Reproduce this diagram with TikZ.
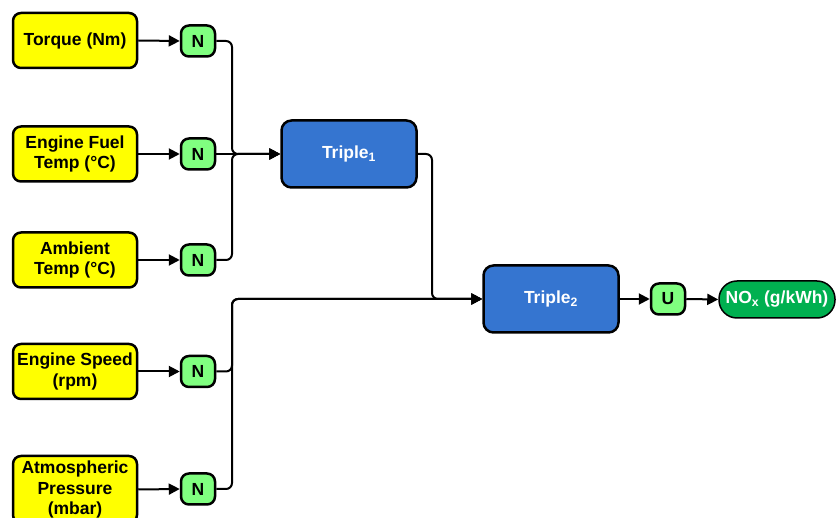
\documentclass[tikz,border=0pt]{standalone}
\usepackage{fontspec}
\setmainfont{Liberation Sans}
\usetikzlibrary{arrows.meta}
\definecolor{inyellow}{HTML}{FFFF00}
\definecolor{normgreen}{HTML}{80FF80}
\definecolor{tripleblue}{HTML}{3575D0}
\definecolor{outgreen}{HTML}{00B050}
\tikzset{
  inbox/.style={draw=black, line width=2.5pt, fill=inyellow, rounded corners=8pt,
    minimum width=124pt, minimum height=55pt, align=center, inner sep=1pt},
  normbox/.style={draw=black, line width=2.5pt, fill=normgreen, rounded corners=8pt,
    minimum width=34pt, minimum height=31pt, inner sep=1pt},
  triplebox/.style={draw=black, line width=2.5pt, fill=tripleblue, rounded corners=10pt,
    minimum width=135pt, minimum height=67pt, text=white},
  outbox/.style={draw=black, line width=1.5pt, fill=outgreen, rounded corners=18pt,
    minimum width=116pt, minimum height=37pt, text=white, inner sep=1pt},
  link/.style={line width=2pt, rounded corners=6pt, -{Triangle[length=11pt,width=11pt]}}
}
\begin{document}
\begin{tikzpicture}[x=1pt, y=-1pt,
  every node/.style={font=\fontsize{17.5}{20.5}\selectfont\bfseries}]
  \useasboundingbox (0,0) rectangle (836,518);
  %%%%% inputs %%%%%
  \node[inbox] (torque) at (75,40.5) {Torque (Nm)};
  \node[inbox] (fuel) at (75,154) {Engine Fuel\\Temp (°C)};
  \node[inbox] (ambient) at (75,260) {Ambient\\Temp (°C)};
  \node[inbox] (speed) at (75,371.5) {Engine Speed\\(rpm)};
  \node[inbox, minimum height=67pt] (pressure) at (75,489.5) {Atmospheric\\Pressure\\(mbar)};
  %%%%% normalisers %%%%%
  \node[normbox] (n1) at (198,41) {N};
  \node[normbox] (n2) at (198,154) {N};
  \node[normbox] (n3) at (198,260) {N};
  \node[normbox] (n4) at (198,371.5) {N};
  \node[normbox] (n5) at (198,489) {N};
  %%%%% triples and output %%%%%
  \node[triplebox] (triple1) at (349,154) {Triple\textsubscript{1}};
  \node[triplebox] (triple2) at (551,299) {Triple\textsubscript{2}};
  \node[normbox] (u) at (668,299) {U};
  \node[outbox] (nox) at (777,299.5) {NO\textsubscript{x} (g/kWh)};
  %%%%% joins %%%%%
  \coordinate (j1) at (232,154);
  \coordinate (j2) at (232,299);
  \coordinate (j3) at (432,299);
  %%%%% links %%%%%
  \foreach \a/\b in {torque/n1, fuel/n2, ambient/n3, speed/n4, pressure/n5}
    \draw[link] (\a.east) -- (\b.west);
  \draw[link] (n1.east) -| (j1) -- (triple1.west);
  \draw[link] (n2.east) -- (triple1.west);
  \draw[link] (n3.east) -| (j1) -- (triple1.west);
  \draw[link] (n4.east) -| (j2) -- (triple2.west);
  \draw[link] (n5.east) -| (j2) -- (triple2.west);
  \draw[link] (triple1.east) -| (j3) -- (triple2.west);
  \draw[link] (triple2.east) -- (u.west);
  \draw[link] (u.east) -- (nox.west);
\end{tikzpicture}
\end{document}
